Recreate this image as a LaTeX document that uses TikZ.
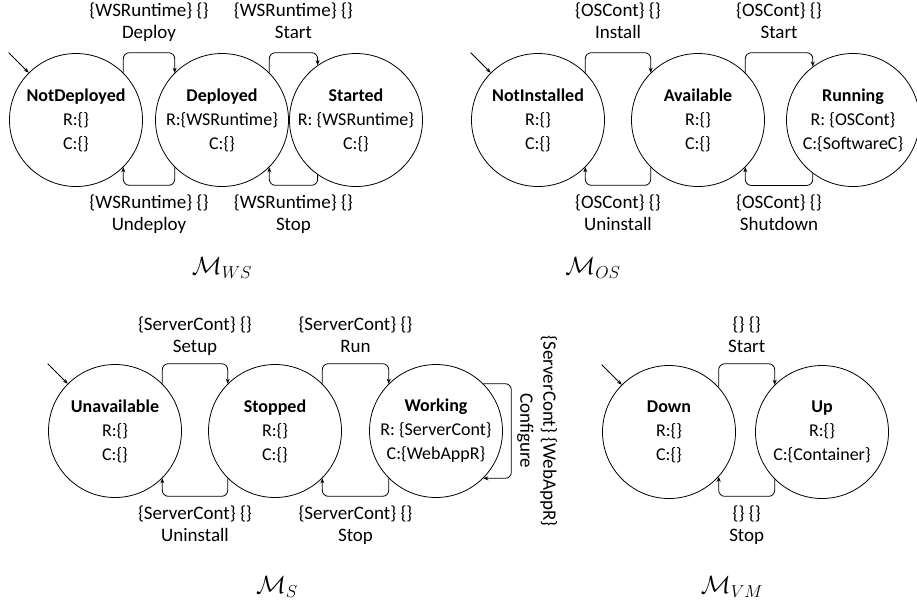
\documentclass[tikz,border=0pt]{standalone}
\usepackage{fontspec}
\setmainfont{Carlito}
\usetikzlibrary{arrows.meta,calc}
\begin{document}
\begin{tikzpicture}[x=1pt,y=-1pt,
  state/.style={circle,draw,line width=0.8pt,minimum size=133pt,inner sep=-15pt,align=center,
    font=\fontsize{18}{24}\selectfont},
  conn/.style={draw,line width=0.8pt,rounded corners=6pt,-{Stealth[length=5pt,width=4pt]}},
  lbl/.style={align=center,font=\fontsize{19}{22}\selectfont,inner sep=1pt,text height=12pt,text depth=4pt},
  lblup/.style={lbl,above=9pt},
  lblupb/.style={lbl,above=6pt},
  lbldn/.style={lbl,below=31.5pt},
  rlbl/.style={align=center,font=\fontsize{19}{23}\selectfont,inner sep=1pt,rotate=-90},
  mlbl/.style={font=\fontsize{24}{28}\selectfont,inner sep=0pt}]
\useasboundingbox (0,0) rectangle (917,606);

% ---------------- M_WS
\node[state] (nd) at (76,120) {\textbf{NotDeployed}\\R:\{\}\\C:\{\}};
\node[state] (dp) at (222,120) {\textbf{Deployed}\\R:\{WSRuntime\}\\C:\{\}};
\node[state] (st) at (356,120) {\textbf{Started}\\R: \{WSRuntime\}\\C:\{\}};
\coordinate (i1) at ($(nd.135)+(-20,-20)$);
\draw[conn] (i1) -- (nd.135);
\draw[conn] (nd.45) -- ++(0,-20) -| node[lblup,pos=0.25] (l1) {\{WSRuntime\} \{\}\\Deploy} (dp.135);
\draw[conn] (dp.-135) -- ++(0,18) -| node[lbldn,pos=0.25] (l2) {\{WSRuntime\} \{\}\\Undeploy} (nd.-45);
\draw[conn] (dp.45) -- ++(0,-20) -| node[lblup,pos=0.25] (l3) {\{WSRuntime\} \{\}\\Start} (st.125);
\draw[conn] (st.-125) -- ++(0,10.5) -| node[lbldn,pos=0.25] (l4) {\{WSRuntime\} \{\}\\Stop} (dp.-45);
\node[mlbl] (mws) at (222,268) {$\mathcal{M}_{WS}$};

% ---------------- M_OS
\node[state] (ni) at (538,120) {\textbf{NotInstalled}\\R:\{\}\\C:\{\}};
\node[state] (av) at (698,120) {\textbf{Available}\\R:\{\}\\C:\{\}};
\node[state] (rn) at (853,120) {\textbf{Running}\\R: \{OSCont\}\\C:\{SoftwareC\}};
\coordinate (i2) at ($(ni.135)+(-20,-20)$);
\draw[conn] (i2) -- (ni.135);
\draw[conn] (ni.45) -- ++(0,-20) -| node[lblup,pos=0.25] (l5) {\{OSCont\} \{\}\\Install} (av.135);
\draw[conn] (av.-135) -- ++(0,18) -| node[lbldn,pos=0.25] (l6) {\{OSCont\} \{\}\\Uninstall} (ni.-45);
\draw[conn] (av.45) -- ++(0,-20) -| node[lblup,pos=0.25] (l7) {\{OSCont\} \{\}\\Start} (rn.127);
\draw[conn] (rn.-127) -- ++(0,12) -| node[lbldn,pos=0.25] (l8) {\{OSCont\} \{\}\\Shutdown} (av.-45);
\node[mlbl] (mos) at (593,268) {$\mathcal{M}_{OS}$};

% ---------------- M_S
\node[state] (un) at (115,431) {\textbf{Unavailable}\\R:\{\}\\C:\{\}};
\node[state] (sp) at (275,431) {\textbf{Stopped}\\R:\{\}\\C:\{\}};
\node[state] (wk) at (436,431) {\textbf{Working}\\R: \{ServerCont\}\\C:\{WebAppR\}};
\coordinate (i3) at ($(un.135)+(-20,-20)$);
\draw[conn] (i3) -- (un.135);
\draw[conn] (un.45) -- ++(0,-20) -| node[lblupb,pos=0.25] (l9) {\{ServerCont\} \{\}\\Setup} (sp.135);
\draw[conn] (sp.-135) -- ++(0,18) -| node[lbldn,pos=0.25] (l10) {\{ServerCont\} \{\}\\Uninstall} (un.-45);
\draw[conn] (sp.45) -- ++(0,-20) -| node[lblupb,pos=0.25] (l11) {\{ServerCont\} \{\}\\Run} (wk.135);
\draw[conn] (wk.-135) -- ++(0,18) -| node[lbldn,pos=0.25] (l12) {\{ServerCont\} \{\}\\Stop} (sp.-45);
\draw[conn] (wk.45) -- ++(28,0) |- (wk.-45);
\node[rlbl] (l13) at (537,431) {\{ServerCont\} \{WebAppR\}\\Configure};
\node[mlbl] (ms) at (277,587) {$\mathcal{M}_{S}$};

% ---------------- M_VM
\node[state] (dn) at (669,432) {\textbf{Down}\\R:\{\}\\C:\{\}};
\node[state] (up) at (822,432) {\textbf{Up}\\R:\{\}\\C:\{Container\}};
\coordinate (i4) at ($(dn.135)+(-20,-20)$);
\draw[conn] (i4) -- (dn.135);
\draw[conn] (dn.42) -- ++(0,-23.5) -| node[lblupb,pos=0.25] (l14) {\{\} \{\}\\Start} (up.135);
\draw[conn] (up.-135) -- ++(0,17) -| node[lbldn,pos=0.25] (l15) {\{\} \{\}\\Stop} (dn.-42);
\node[mlbl] (mvm) at (732,587) {$\mathcal{M}_{VM}$};
\end{tikzpicture}
\end{document}
